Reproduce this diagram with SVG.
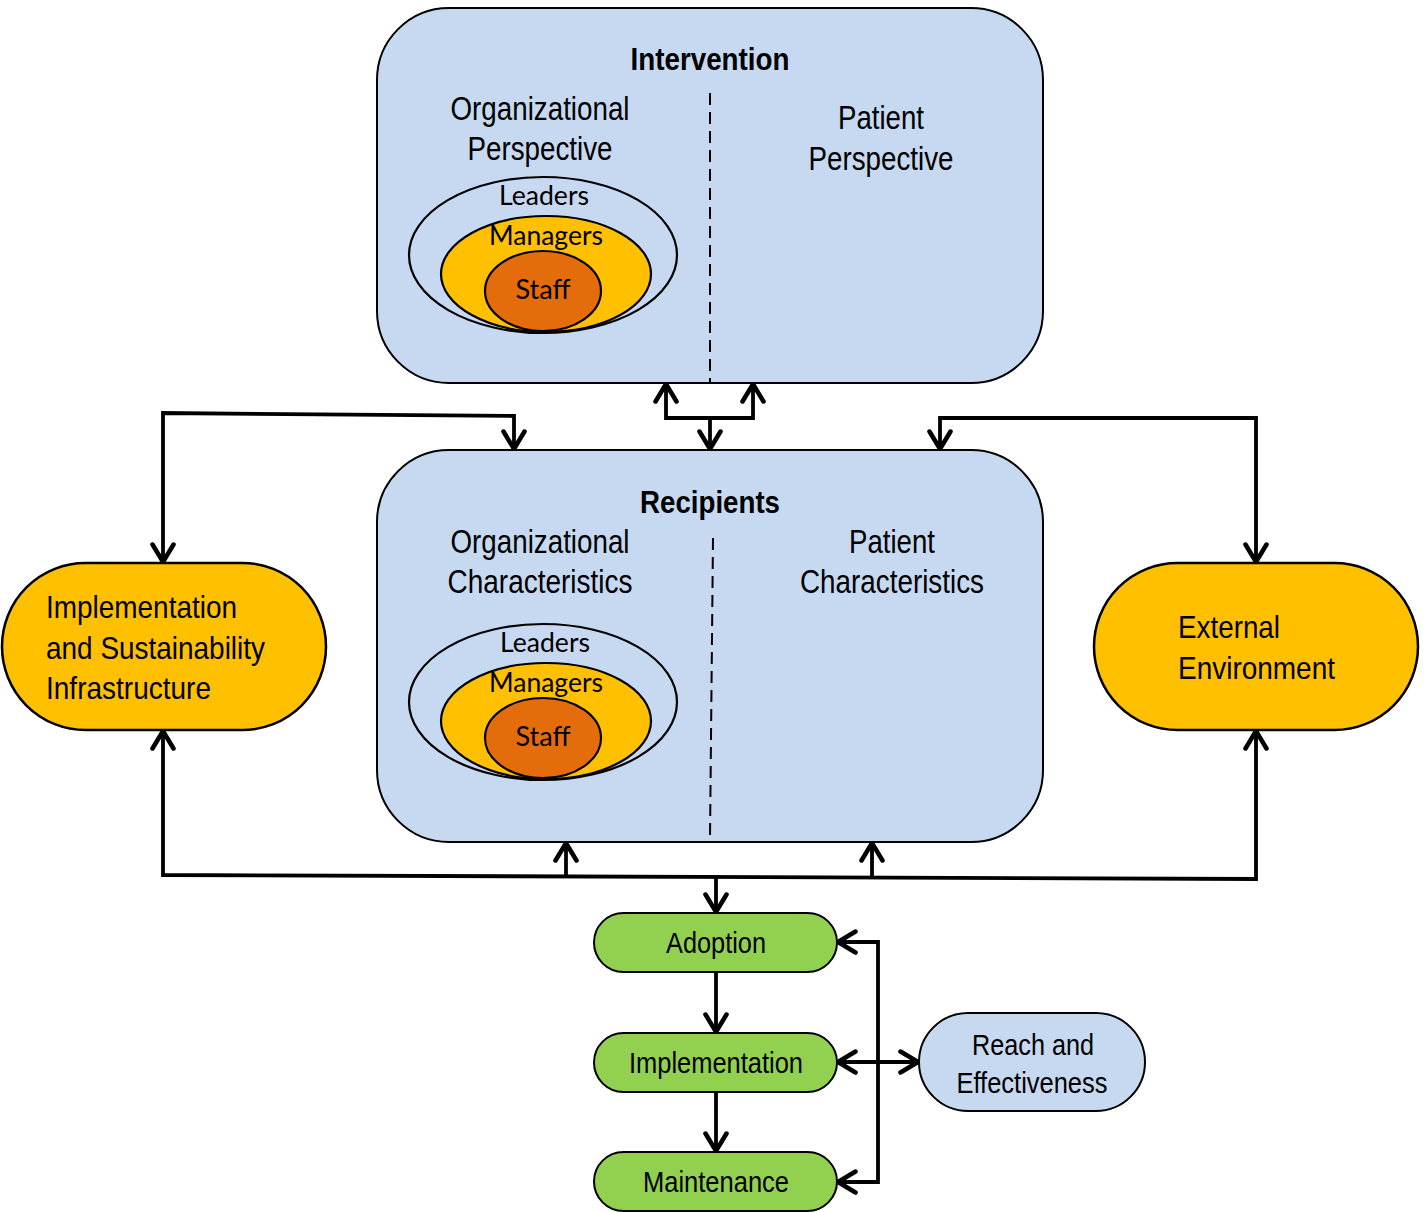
<svg xmlns="http://www.w3.org/2000/svg" width="1424" height="1212" viewBox="0 0 1424 1212">
<defs>
<style>
.n{font-family:"Liberation Sans Narrow","Arial Narrow","Liberation Sans",sans-serif;fill:#000}
.c{font-family:Lato,"Open Sans",sans-serif;fill:#000;font-size:26px;text-anchor:middle}
.big{fill:#C6D9F0;stroke:#000;stroke-width:2}
.el{stroke:#000;stroke-width:2.2}
.con{fill:none;stroke:#000;stroke-width:3.8;stroke-linejoin:miter}
.dash{stroke:#000;stroke-width:2;stroke-dasharray:12,7}
</style>
<marker id="ah" viewBox="0 0 22 26" refX="20" refY="13" markerWidth="22" markerHeight="26" markerUnits="userSpaceOnUse" orient="auto-start-reverse">
<path d="M2.5,2.5 L20,13 L2.5,23.5" fill="none" stroke="#000" stroke-width="4.5" stroke-linecap="round"/>
</marker>
</defs>
<rect width="1424" height="1212" fill="#fff"/>

<g id="intervention">
<rect class="big" x="377" y="8" width="666" height="375" rx="72"/>
<text class="n" x="710" y="70" font-size="32" font-weight="bold" text-anchor="middle" textLength="159" lengthAdjust="spacingAndGlyphs">Intervention</text>
<text class="n" x="540" y="120" font-size="33" text-anchor="middle" textLength="179" lengthAdjust="spacingAndGlyphs">Organizational</text>
<text class="n" x="540" y="160" font-size="33" text-anchor="middle" textLength="145" lengthAdjust="spacingAndGlyphs">Perspective</text>
<text class="n" x="881" y="129" font-size="33" text-anchor="middle" textLength="86" lengthAdjust="spacingAndGlyphs">Patient</text>
<text class="n" x="881" y="170" font-size="33" text-anchor="middle" textLength="145" lengthAdjust="spacingAndGlyphs">Perspective</text>
<line class="dash" x1="710" y1="93" x2="710" y2="383"/>
<ellipse class="el" cx="543" cy="255" rx="134" ry="78" fill="#C6D9F0"/>
<ellipse class="el" cx="546" cy="274" rx="105" ry="58" fill="#FFC000"/>
<ellipse class="el" cx="543" cy="291" rx="58" ry="40" fill="#E46C0A"/>
<text class="c" x="544" y="205" textLength="90" lengthAdjust="spacingAndGlyphs">Leaders</text>
<text class="c" x="546" y="245" textLength="114" lengthAdjust="spacingAndGlyphs">Managers</text>
<text class="c" x="543" y="299" textLength="55" lengthAdjust="spacingAndGlyphs">Staff</text>
</g>

<g id="recipients">
<rect class="big" x="377" y="450" width="666" height="392" rx="72"/>
<text class="n" x="710" y="513" font-size="32" font-weight="bold" text-anchor="middle" textLength="140" lengthAdjust="spacingAndGlyphs">Recipients</text>
<text class="n" x="540" y="553" font-size="33" text-anchor="middle" textLength="179" lengthAdjust="spacingAndGlyphs">Organizational</text>
<text class="n" x="540" y="593" font-size="33" text-anchor="middle" textLength="185" lengthAdjust="spacingAndGlyphs">Characteristics</text>
<text class="n" x="892" y="553" font-size="33" text-anchor="middle" textLength="86" lengthAdjust="spacingAndGlyphs">Patient</text>
<text class="n" x="892" y="593" font-size="33" text-anchor="middle" textLength="184" lengthAdjust="spacingAndGlyphs">Characteristics</text>
<line class="dash" x1="713" y1="538" x2="710" y2="838"/>
<ellipse class="el" cx="543" cy="702" rx="134" ry="78" fill="#C6D9F0"/>
<ellipse class="el" cx="546" cy="721" rx="105" ry="58" fill="#FFC000"/>
<ellipse class="el" cx="543" cy="738" rx="58" ry="40" fill="#E46C0A"/>
<text class="c" x="545" y="652" textLength="90" lengthAdjust="spacingAndGlyphs">Leaders</text>
<text class="c" x="546" y="692" textLength="114" lengthAdjust="spacingAndGlyphs">Managers</text>
<text class="c" x="543" y="746" textLength="55" lengthAdjust="spacingAndGlyphs">Staff</text>
</g>

<g id="infrastructure">
<rect x="2" y="563" width="324" height="167" rx="83.5" fill="#FFC000" stroke="#000" stroke-width="2.5"/>
<text class="n" x="46" y="618" font-size="32" textLength="191" lengthAdjust="spacingAndGlyphs">Implementation</text>
<text class="n" x="46" y="659" font-size="32" textLength="219" lengthAdjust="spacingAndGlyphs">and Sustainability</text>
<text class="n" x="46" y="699" font-size="32" textLength="165" lengthAdjust="spacingAndGlyphs">Infrastructure</text>
</g>

<g id="external">
<rect x="1094" y="563" width="324" height="167" rx="83.5" fill="#FFC000" stroke="#000" stroke-width="2.5"/>
<text class="n" x="1178" y="638" font-size="32" textLength="102" lengthAdjust="spacingAndGlyphs">External</text>
<text class="n" x="1178" y="679" font-size="32" textLength="157" lengthAdjust="spacingAndGlyphs">Environment</text>
</g>

<g id="adoption">
<rect x="594" y="913" width="243" height="59" rx="29.5" fill="#92D050" stroke="#000" stroke-width="2"/>
<text class="n" x="716" y="953" font-size="29" text-anchor="middle" textLength="100" lengthAdjust="spacingAndGlyphs">Adoption</text>
</g>
<g id="implementation">
<rect x="594" y="1033" width="243" height="59" rx="29.5" fill="#92D050" stroke="#000" stroke-width="2"/>
<text class="n" x="716" y="1073" font-size="29" text-anchor="middle" textLength="174" lengthAdjust="spacingAndGlyphs">Implementation</text>
</g>
<g id="maintenance">
<rect x="594" y="1152" width="243" height="59" rx="29.5" fill="#92D050" stroke="#000" stroke-width="2"/>
<text class="n" x="716" y="1192" font-size="29" text-anchor="middle" textLength="146" lengthAdjust="spacingAndGlyphs">Maintenance</text>
</g>
<g id="reach">
<rect x="919" y="1013" width="226" height="98" rx="49" fill="#C6D9F0" stroke="#000" stroke-width="2"/>
<text class="n" x="1033" y="1055" font-size="29" text-anchor="middle" textLength="122" lengthAdjust="spacingAndGlyphs">Reach and</text>
<text class="n" x="1032" y="1093" font-size="29" text-anchor="middle" textLength="151" lengthAdjust="spacingAndGlyphs">Effectiveness</text>
</g>

<g id="connectors">
<path class="con" d="M666,384 V418 H753 V384" marker-start="url(#ah)" marker-end="url(#ah)"/>
<path class="con" d="M710,418 V449" marker-end="url(#ah)"/>
<path class="con" d="M514,449 V416 L163,413 V562" marker-start="url(#ah)" marker-end="url(#ah)"/>
<path class="con" d="M940,449 V418 H1256 V562" marker-start="url(#ah)" marker-end="url(#ah)"/>
<path class="con" d="M163,731 V875 L1256,879 V731" marker-start="url(#ah)" marker-end="url(#ah)"/>
<path class="con" d="M566,876 V843" marker-end="url(#ah)"/>
<path class="con" d="M872,877 V843" marker-end="url(#ah)"/>
<path class="con" d="M716,877 V912" marker-end="url(#ah)"/>
<path class="con" d="M716,972 V1032" marker-end="url(#ah)"/>
<path class="con" d="M716,1092 V1151" marker-end="url(#ah)"/>
<path class="con" d="M838,942 H878 V1182 H838" marker-start="url(#ah)" marker-end="url(#ah)"/>
<path class="con" d="M838,1062 H918" marker-start="url(#ah)" marker-end="url(#ah)"/>
</g>
</svg>
